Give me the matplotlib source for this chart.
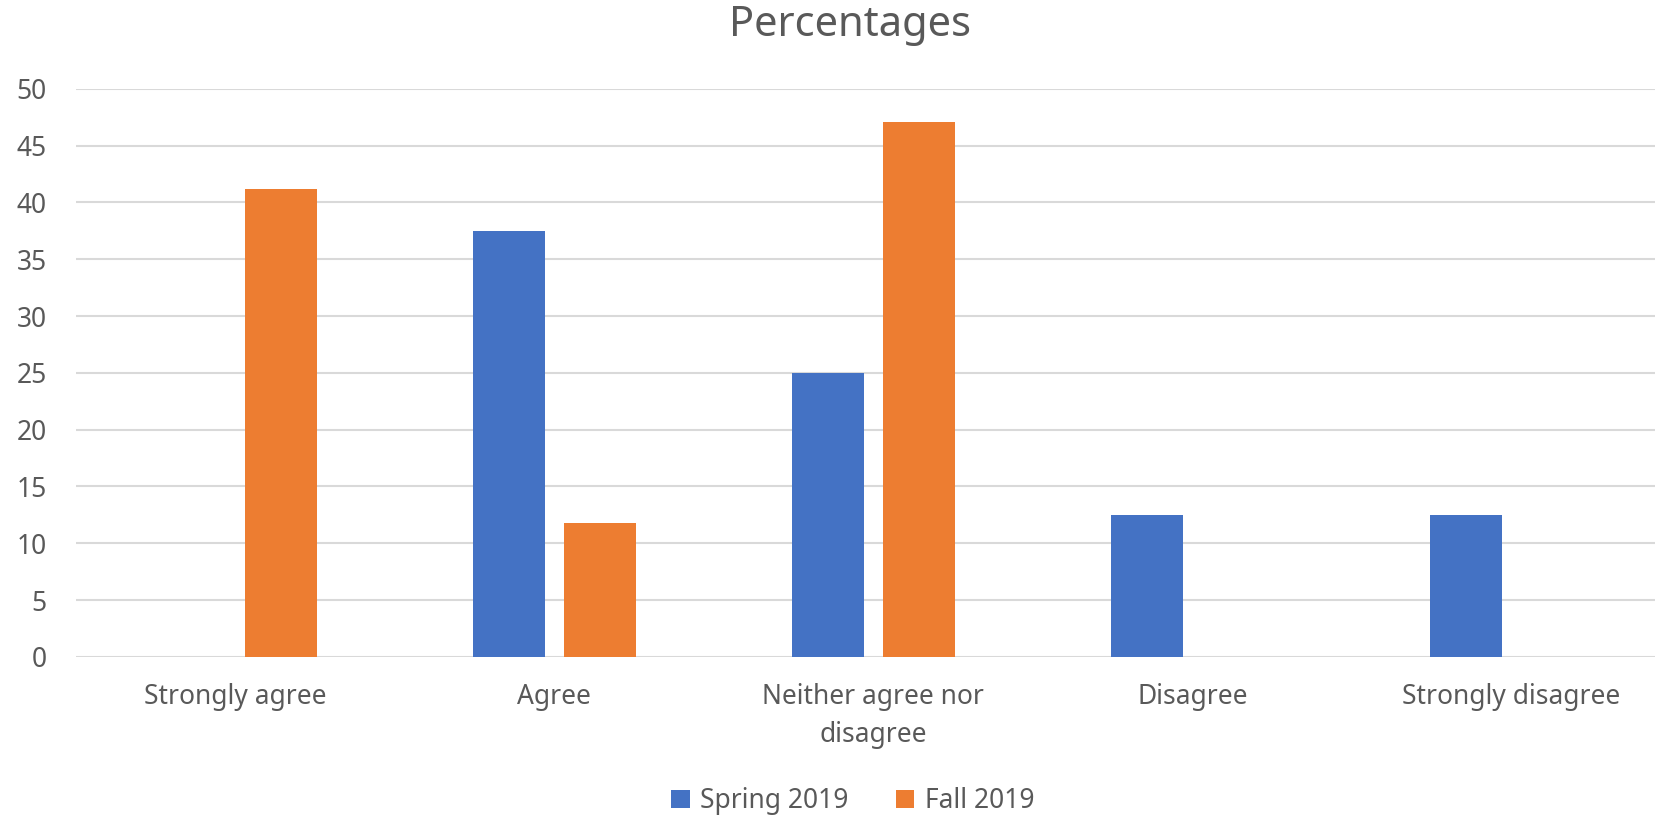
import numpy as np
import matplotlib.pyplot as plt

# Survey responses (percent)
categories = ["Strongly agree", "Agree", "Neither agree nor\ndisagree", "Disagree", "Strongly disagree"]
spring_2019 = [0, 37.5, 25, 12.5, 12.5]
fall_2019 = [41.18, 11.76, 47.06, 0, 0]

plt.rcParams['font.family'] = ['Noto Sans', 'DejaVu Sans']
text_color = '#595959'

fig = plt.figure(figsize=(16.56, 8.15), dpi=100)
ax = fig.add_axes([0.0459, 0.194, 0.963, 0.697])

x = np.arange(len(categories))
bar_w = 0.225
offset = 0.142
ax.bar(x - offset, spring_2019, bar_w, color='#4472C4', label='Spring 2019', zorder=3)
ax.bar(x + offset, fall_2019, bar_w, color='#ED7D31', label='Fall 2019', zorder=3)

ax.set_xlim(-0.5, len(categories) - 0.5)
ax.set_ylim(0, 50)
ax.set_yticks(np.arange(0, 51, 5))
ax.yaxis.grid(True, color='#d9d9d9', linewidth=1.5, zorder=0)
ax.set_axisbelow(True)

for s in ax.spines.values():
    s.set_visible(False)

ax.set_xticks(x)
ax.set_xticklabels(categories, linespacing=1.45)
ax.tick_params(axis='both', length=0, labelsize=19, labelcolor=text_color)
ax.tick_params(axis='y', pad=21)
ax.tick_params(axis='x', pad=19)

fig.text(0.513, 0.969, "Percentages", ha='center', va='center', fontsize=30, color=text_color)

fig.legend(loc='center', bbox_to_anchor=(0.515, 0.017), ncol=2, frameon=False,
           fontsize=19, labelcolor=text_color, handlelength=0.7, handleheight=0.7,
           handletextpad=0.4, columnspacing=1.8)

fig.savefig('out.png', dpi=100)
